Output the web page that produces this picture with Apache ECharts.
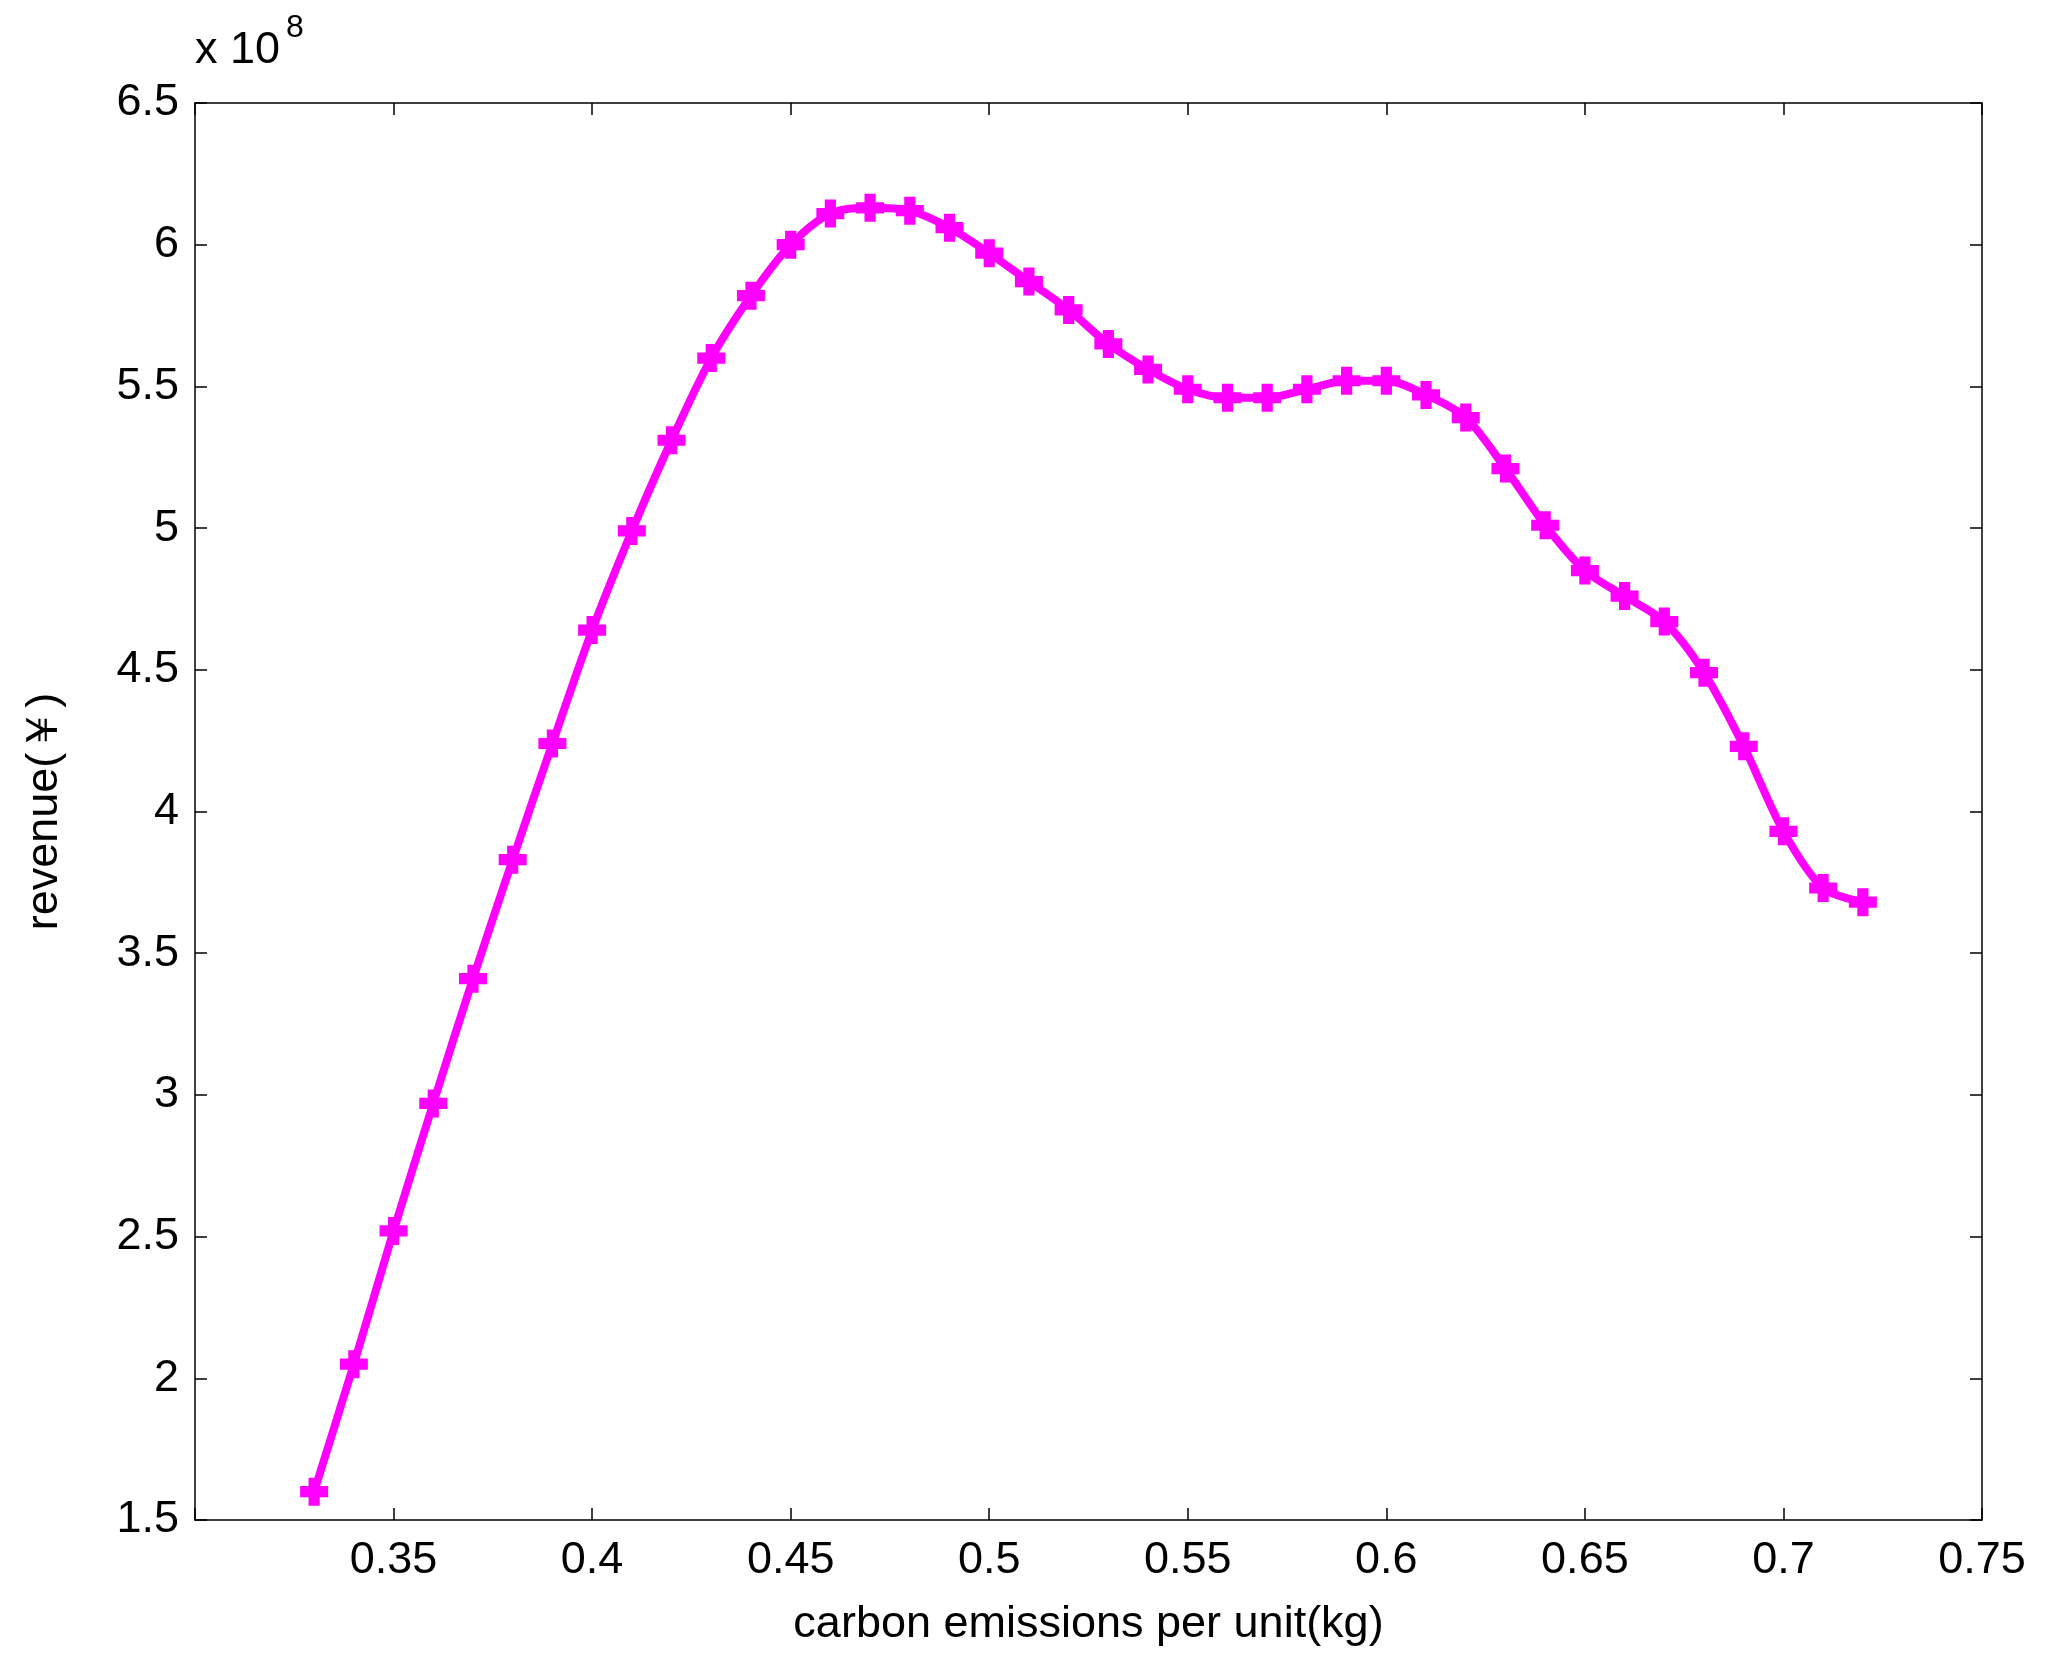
<!DOCTYPE html>
<html>
<head>
<meta charset="utf-8">
<script src="https://cdn.jsdelivr.net/npm/echarts@6/dist/echarts.min.js"></script>
<style>html,body{margin:0;padding:0;background:#fff}#main{width:2051px;height:1666px}</style>
</head>
<body>
<div id="main"></div>
<script>
// carbon emissions per unit (kg)
var emissions = [0.33,0.34,0.35,0.36,0.37,0.38,0.39,0.40,0.41,0.42,0.43,0.44,0.45,0.46,0.47,0.48,0.49,0.50,0.51,0.52,
                 0.53,0.54,0.55,0.56,0.57,0.58,0.59,0.60,0.61,0.62,0.63,0.64,0.65,0.66,0.67,0.68,0.69,0.70,0.71,0.72];
// revenue in units of 1e8
var revenue = [1.60,2.05,2.52,2.97,3.41,3.83,4.24,4.64,4.99,5.31,5.60,5.82,6.00,6.11,6.13,6.12,6.06,5.97,5.87,5.77,
               5.65,5.56,5.49,5.46,5.46,5.49,5.52,5.52,5.47,5.39,5.21,5.01,4.85,4.76,4.67,4.49,4.23,3.93,3.73,3.68];

var pts = emissions.map(function(x,i){ return [x, revenue[i]]; });
var font = 'Arial, "Liberation Sans", sans-serif';
var tickStyle = {show:true, inside:true, length:12, lineStyle:{color:'#000', width:1.5}};

var chart = echarts.init(document.getElementById('main'));
chart.setOption({
    backgroundColor:'#fff',
    animation:false,
    grid:{left:195, right:69, top:103, bottom:146},
    xAxis:[{
        type:'value', min:0.3, max:0.75, interval:0.05,
        name:'carbon emissions per unit(kg)', nameLocation:'middle', nameGap:82,
        nameTextStyle:{fontSize:45, color:'#000', fontFamily:font},
        axisLine:{onZero:false, lineStyle:{color:'#000', width:1.5}},
        axisTick:tickStyle, splitLine:{show:false},
        axisLabel:{fontSize:45, color:'#000', fontFamily:font, margin:18,
            formatter:function(v){ return v < 0.31 ? '' : String(+v.toFixed(2)); }}
    },{
        type:'value', position:'top', min:0.3, max:0.75, interval:0.05,
        axisLine:{lineStyle:{color:'#000', width:1.5}}, axisTick:tickStyle,
        axisLabel:{show:false}, splitLine:{show:false}
    }],
    yAxis:[{
        type:'value', min:1.5, max:6.5, interval:0.5,
        name:'revenue(￥)', nameLocation:'middle', nameGap:128,
        nameTextStyle:{fontSize:45, color:'#000', fontFamily:font},
        axisLine:{lineStyle:{color:'#000', width:1.5}}, axisTick:tickStyle,
        splitLine:{show:false},
        axisLabel:{fontSize:45, color:'#000', fontFamily:font, margin:16,
            formatter:function(v){ return String(+v.toFixed(1)); }}
    },{
        type:'value', position:'right', min:1.5, max:6.5, interval:0.5,
        axisLine:{lineStyle:{color:'#000', width:1.5}}, axisTick:tickStyle,
        axisLabel:{show:false}, splitLine:{show:false}
    }],
    graphic:[{
        type:'text', left:195, top:28,
        style:{text:'x 10', font:'45px ' + font, fill:'#000'}
    },{
        type:'text', left:286, top:12,
        style:{text:'8', font:'32px ' + font, fill:'#000'}
    }],
    series:[{
        type:'line', data:pts, xAxisIndex:0, yAxisIndex:0, smooth:0.3,
        symbol:'path://M3,0H7V3H10V7H7V10H3V7H0V3H3Z', symbolSize:28,
        lineStyle:{color:'#ff00ff', width:8},
        itemStyle:{color:'#ff00ff'}
    }]
});
</script>
</body>
</html>
